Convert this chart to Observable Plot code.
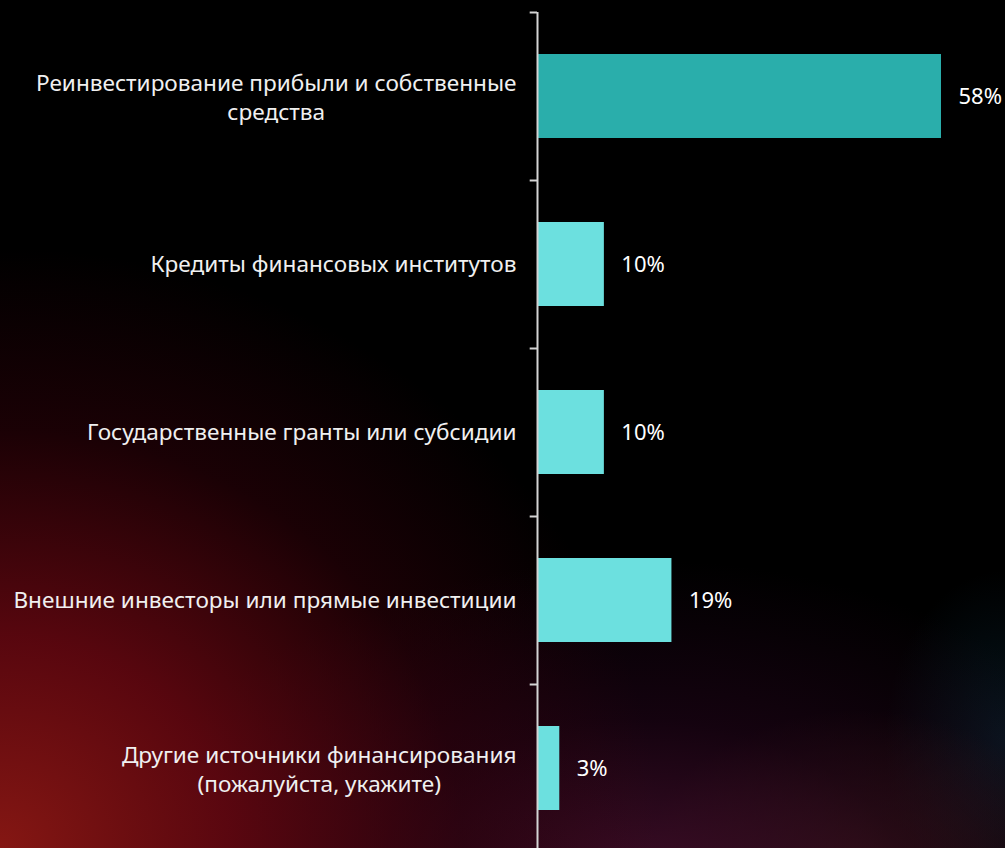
<!DOCTYPE html>
<html><head><meta charset="utf-8">
<script src="https://cdn.jsdelivr.net/npm/d3@7"></script>
<script src="https://cdn.jsdelivr.net/npm/@observablehq/plot@0.6"></script>
<style>
html,body{margin:0;padding:0;background:#000;}
#chart{width:1005px;height:848px;position:relative;overflow:hidden;
background:
 radial-gradient(ellipse 660px 600px at 0px 848px, rgba(140,24,20,0.95) 0%, rgba(110,8,18,0.8) 35%, rgba(65,2,12,0.4) 70%, rgba(0,0,0,0) 100%),
 radial-gradient(ellipse 520px 320px at 640px 880px, rgba(70,15,45,0.85) 0%, rgba(40,5,30,0.5) 50%, rgba(0,0,0,0) 100%),
 radial-gradient(ellipse 220px 160px at 860px 870px, rgba(90,40,30,0.55), rgba(0,0,0,0)),
 radial-gradient(ellipse 120px 170px at 1005px 740px, rgba(10,40,55,0.55), rgba(0,0,0,0)),
 #000;}
svg{background:transparent;}
</style>
</head><body>
<div id="chart"></div>
<script>
const categories = [
  "Реинвестирование прибыли и собственные\nсредства",
  "Кредиты финансовых институтов",
  "Государственные гранты или субсидии",
  "Внешние инвесторы или прямые инвестиции",
  "Другие источники финансирования\n(пожалуйста, укажите)"
];
const values = [58, 9.6, 9.6, 19.3, 3.2];
const valueLabels = ["58%", "10%", "10%", "19%", "3%"];
const barColors = ["#2aaeab", "#6ce0df", "#6ce0df", "#6ce0df", "#6ce0df"];

const data = categories.map((c, i) => ({category: c, value: values[i], label: valueLabels[i], color: barColors[i]}));

const labelFont = 22.6;
const ctx = document.createElement("canvas").getContext("2d");
ctx.font = `${labelFont}px 'Noto Sans'`;
const widest = s => Math.max(...s.split("\n").map(l => ctx.measureText(l).width));

const singleLine = data.filter(d => !d.category.includes("\n"));
const multiLine = data.filter(d => d.category.includes("\n"));

const chart = Plot.plot({
  width: 1005,
  height: 848,
  marginLeft: 537,
  marginRight: 64,
  marginTop: 12,
  marginBottom: 0,
  style: {background: "transparent", fontFamily: "'Noto Sans', sans-serif"},
  x: {domain: [0, 58], axis: null},
  y: {domain: categories, range: [12, 852], paddingInner: 0.5, paddingOuter: 0.25, axis: null},
  color: {type: "identity"},
  marks: [
    Plot.barX(data, {y: "category", x: "value", fill: "color"}),
    Plot.ruleX([0], {stroke: "#d4d4d4", strokeWidth: 2}),
    Plot.ruleY(categories, {y: d => d, x1: -1.05, x2: 0, dy: -84, stroke: "#d4d4d4", strokeWidth: 2}),
    Plot.text(data, {y: "category", x: "value", text: "label", dx: 17, textAnchor: "start", fill: "#ffffff", fontSize: 22}),
    Plot.text(singleLine, {y: "category", x: 0, text: "category", dx: -21, textAnchor: "end", fill: "#f0f0f0", fontSize: labelFont}),
    ...multiLine.map(d => Plot.text([d], {y: "category", x: 0, text: "category", dx: -21 - widest(d.category) / 2, textAnchor: "middle", fill: "#f0f0f0", fontSize: labelFont, lineHeight: 1.28}))
  ]
});
document.getElementById("chart").appendChild(chart);
</script>
</body></html>
